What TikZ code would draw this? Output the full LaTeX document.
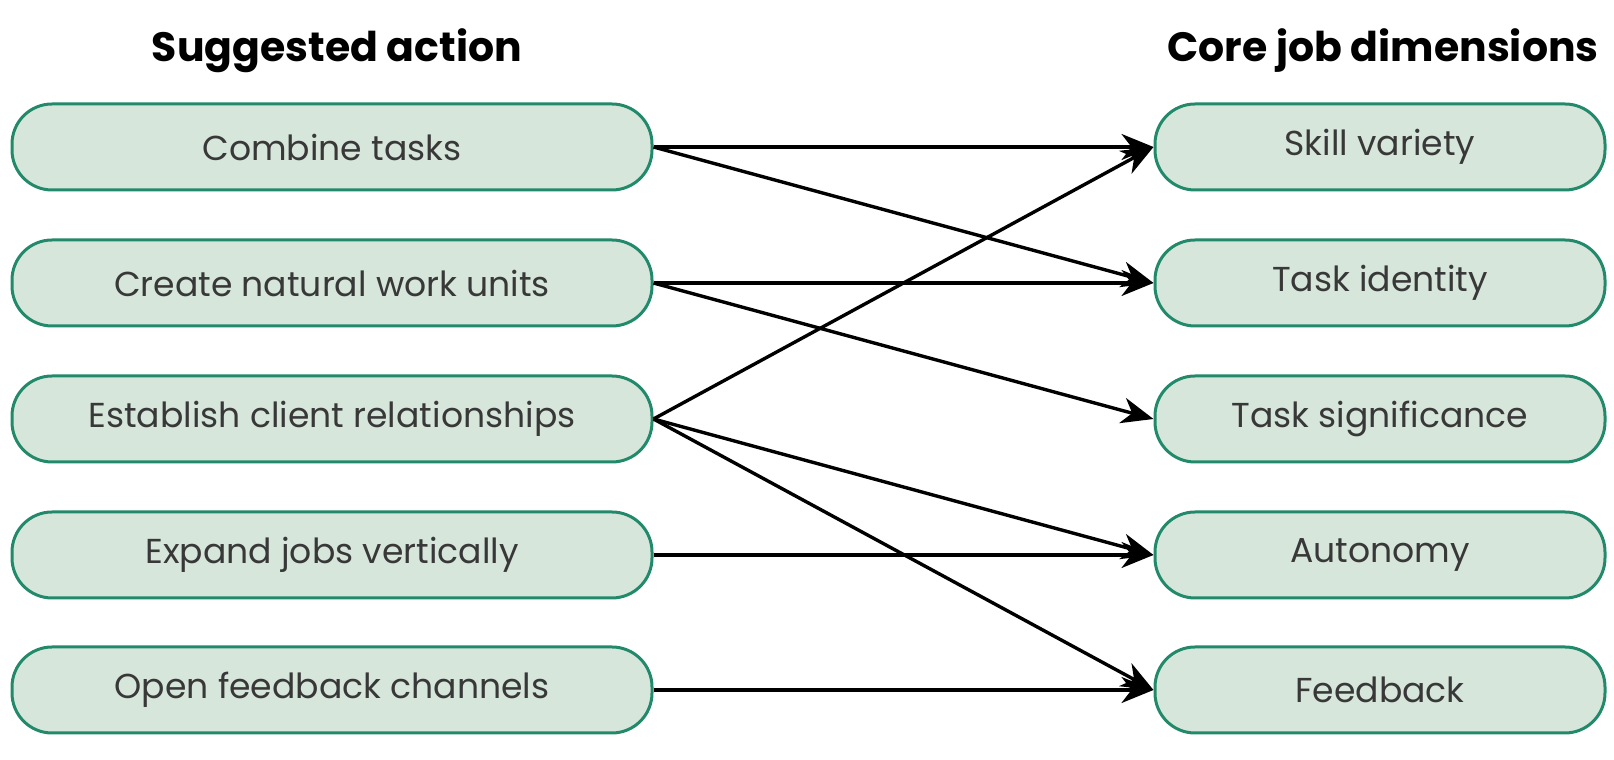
\documentclass[tikz,border=0pt]{standalone}
\usepackage{fontspec}
\setmainfont{Poppins}
\usetikzlibrary{arrows.meta}
\definecolor{boxfill}{RGB}{214,230,219}
\definecolor{boxline}{RGB}{34,138,106}
\begin{document}
\begin{tikzpicture}[
			x=0.5pt, y=0.5pt,
			box/.style={draw=boxline, fill=boxfill, line width=1.5pt, rounded corners=20pt,
					minimum height=43pt, font=\fontsize{17.3}{20}\selectfont, text=black!78},
			action/.style={box, minimum width=320pt},
			dimension/.style={box, minimum width=225pt},
			heading/.style={font=\fontsize{20.5}{24}\selectfont\bfseries},
			link/.style={line width=1.7pt, -{Stealth[length=16pt,width=13pt,inset=5pt]}}
		]
		\useasboundingbox (0,0) rectangle (1614,760);
		\node[heading] (h1) at (337,709) {Suggested action};
		\node[heading] (h2) at (1383,709) {Core job dimensions};
		\node[action] (a1) at (332,613) {Combine tasks};
		\node[action] (a2) at (332,477) {Create natural work units};
		\node[action] (a3) at (332,341) {Establish client relationships};
		\node[action] (a4) at (332,205) {Expand jobs vertically};
		\node[action] (a5) at (332,70) {Open feedback channels};
		\node[dimension] (d1) at (1380,613) {Skill variety};
		\node[dimension] (d2) at (1380,477) {Task identity};
		\node[dimension] (d3) at (1380,341) {Task significance};
		\node[dimension] (d4) at (1380,205) {Autonomy};
		\node[dimension] (d5) at (1380,70) {Feedback};
		\foreach \a/\d in {a1/d1, a1/d2, a2/d2, a2/d3, a3/d1, a3/d4, a3/d5, a4/d4, a5/d5}
		\draw[link] (\a.east) -- (\d.west);
	\end{tikzpicture}
\end{document}
